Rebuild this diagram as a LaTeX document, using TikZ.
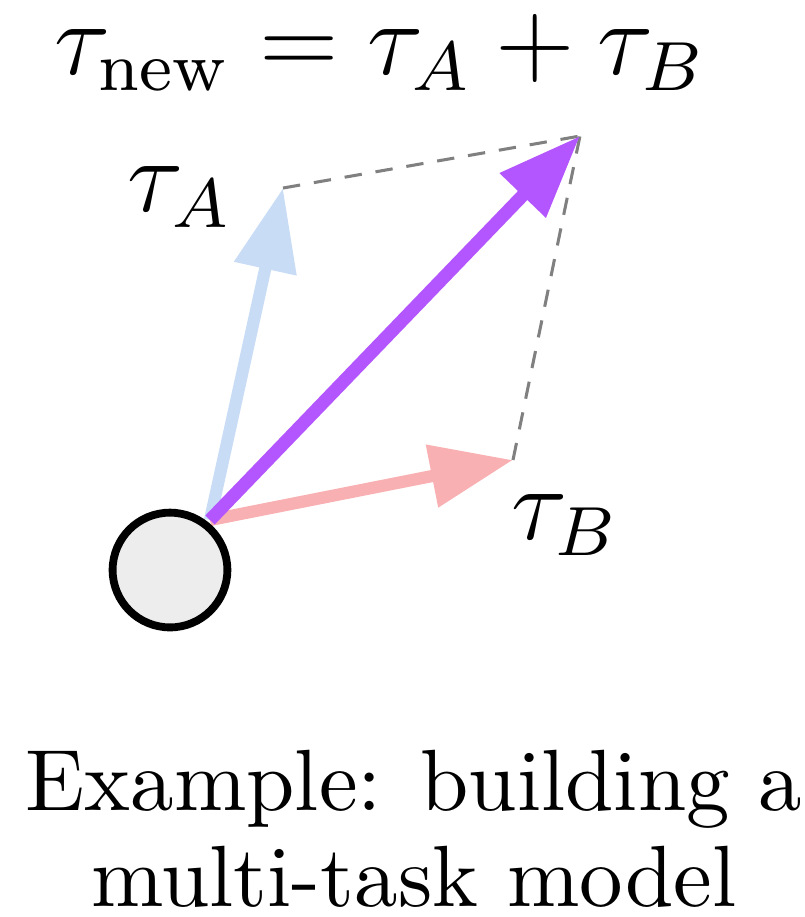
\documentclass[tikz,border=0pt]{standalone}
\usepackage{amsmath,amssymb}
\usepackage{tikz}
\usetikzlibrary{arrows.meta,positioning}
\definecolor{TaskBlue}{HTML}{C8DCF5}
\definecolor{TaskPink}{HTML}{F9B0B3}
\definecolor{TaskPurple}{HTML}{B456FF}

\begin{document}
\begin{tikzpicture}[
  x=0.115pt,y=-0.115pt,
  every node/.style={font=\normalsize,align=center},
  model/.style={circle,draw,line width=0.9pt,fill=black!7,minimum size=13.2pt,inner sep=0pt},
  vec/.style={-{Triangle[length=9.5pt,width=7pt]},line width=1.4pt},
  guide/.style={dashed,gray,line width=0.35pt,dash pattern=on 2pt off 1.6pt}
]
  \useasboundingbox (0,0) rectangle (805,917);
  \coordinate (o) at (210,520);
  \coordinate (ta) at (283,188);
  \coordinate (tb) at (513,460);
  \coordinate (tn) at (580,136);

  \draw[guide] (ta) -- (tn);
  \draw[guide] (tb) -- (tn);
  \draw[vec,TaskBlue] (o) -- (ta);
  \draw[vec,TaskPink] (o) -- (tb);
  \draw[vec,TaskPurple,line width=1.5pt] (o) -- (tn);
  \node[model] (base) at (170,570) {};

  \node (lA) at (180,197) {\large$\tau_A$};
  \node (lB) at (565,525) {\large$\tau_B$};
  \node (title) at (380,53) {\large$\tau_{\text{new}} = \tau_A + \tau_B$};
  \node (caption) at (414,829) {Example: building a\\[-1pt]multi-task model};
\end{tikzpicture}
\end{document}
